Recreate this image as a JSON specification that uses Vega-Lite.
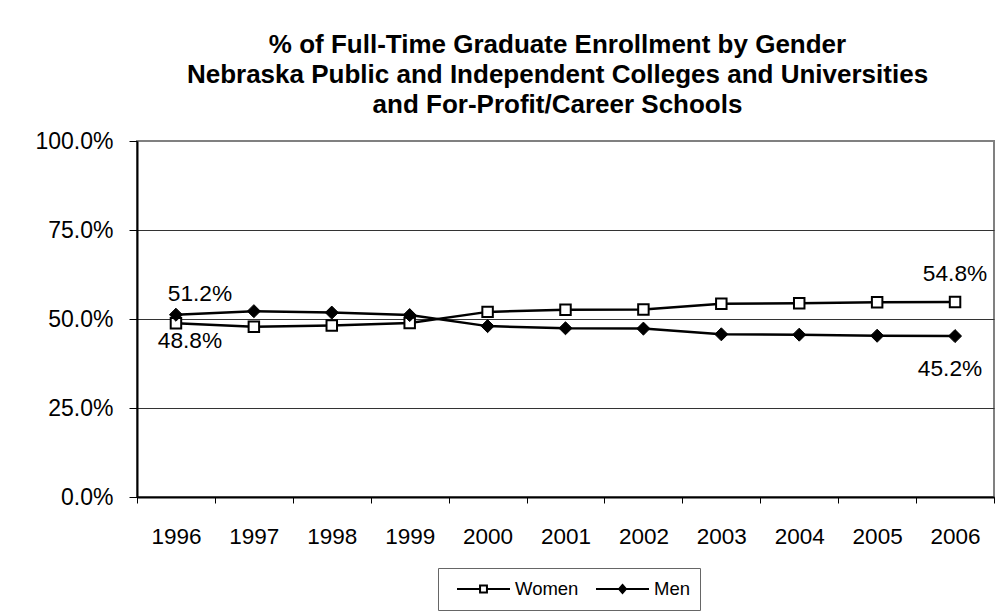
{
  "$schema": "https://vega.github.io/schema/vega-lite/v6.json",
  "width": 857,
  "height": 356,
  "autosize": {"type": "none"},
  "padding": {"left": 137, "top": 141, "right": 5, "bottom": 119},
  "background": "white",
  "config": {
    "font": "Liberation Sans",
    "view": {"stroke": "#808080", "strokeWidth": 2},
    "legend": {
      "orient": "none",
      "legendX": 301,
      "legendY": 427,
      "direction": "horizontal",
      "strokeColor": "#666666",
      "padding": 10,
      "symbolSize": 2809,
      "symbolStrokeWidth": 2,
      "symbolStrokeColor": "black",
      "clipHeight": 22,
      "symbolOffset": 8,
      "labelOffset": 4,
      "columnPadding": 8,
      "labelFontSize": 18.5,
      "labelColor": "black",
      "labelFont": "Liberation Sans"
    }
  },
  "title": {
    "text": [
      "% of Full-Time Graduate Enrollment by Gender",
      "Nebraska Public and Independent Colleges and Universities",
      "and For-Profit/Career Schools"
    ],
    "font": "Liberation Sans",
    "fontSize": 26,
    "fontWeight": "bold",
    "color": "black",
    "lineHeight": 30,
    "offset": 12,
    "dx": -8,
    "anchor": "middle"
  },
  "data": {
    "values": [
      {"year": "1996", "series": "Women", "share": 0.488},
      {"year": "1997", "series": "Women", "share": 0.478},
      {"year": "1998", "series": "Women", "share": 0.482},
      {"year": "1999", "series": "Women", "share": 0.489},
      {"year": "2000", "series": "Women", "share": 0.520},
      {"year": "2001", "series": "Women", "share": 0.526},
      {"year": "2002", "series": "Women", "share": 0.527},
      {"year": "2003", "series": "Women", "share": 0.543},
      {"year": "2004", "series": "Women", "share": 0.544},
      {"year": "2005", "series": "Women", "share": 0.547},
      {"year": "2006", "series": "Women", "share": 0.548},
      {"year": "1996", "series": "Men", "share": 0.512},
      {"year": "1997", "series": "Men", "share": 0.522},
      {"year": "1998", "series": "Men", "share": 0.518},
      {"year": "1999", "series": "Men", "share": 0.511},
      {"year": "2000", "series": "Men", "share": 0.480},
      {"year": "2001", "series": "Men", "share": 0.474},
      {"year": "2002", "series": "Men", "share": 0.473},
      {"year": "2003", "series": "Men", "share": 0.457},
      {"year": "2004", "series": "Men", "share": 0.456},
      {"year": "2005", "series": "Men", "share": 0.453},
      {"year": "2006", "series": "Men", "share": 0.452}
    ]
  },
  "encoding": {
    "x": {
      "field": "year",
      "type": "ordinal",
      "scale": {"type": "band", "paddingInner": 0, "paddingOuter": 0},
      "axis": {
        "title": null,
        "labelAngle": 0,
        "grid": false,
        "tickBand": "extent",
        "domainColor": "black",
        "domainWidth": 2,
        "tickColor": "black",
        "tickWidth": 1,
        "tickSize": 6,
        "labelFontSize": 22.5,
        "labelColor": "black",
        "labelFont": "Liberation Sans",
        "labelPadding": 22
      }
    },
    "y": {
      "field": "share",
      "type": "quantitative",
      "scale": {"domain": [0, 1], "nice": false},
      "axis": {
        "title": null,
        "values": [0, 0.25, 0.5, 0.75, 1],
        "format": ".1%",
        "grid": true,
        "gridColor": {"condition": {"test": "datum.value >= 1", "value": "#808080"}, "value": "#333333"},
        "gridWidth": 1,
        "domainColor": "black",
        "domainWidth": 2,
        "tickColor": "black",
        "tickWidth": 1,
        "tickSize": 8,
        "labelPadding": 16,
        "labelFontSize": 23,
        "labelColor": "black",
        "labelFont": "Liberation Sans"
      }
    }
  },
  "layer": [
    {
      "mark": {"type": "line", "color": "black", "strokeWidth": 2.5},
      "encoding": {"detail": {"field": "series", "type": "nominal"}}
    },
    {
      "transform": [{"filter": "datum.series == 'Women'"}],
      "mark": {"type": "point", "shape": "square", "filled": true, "fill": "white", "stroke": "black", "strokeWidth": 2, "size": 110, "opacity": 1}
    },
    {
      "transform": [{"filter": "datum.series == 'Men'"}],
      "mark": {"type": "point", "shape": "diamond", "filled": true, "fill": "black", "stroke": "black", "strokeWidth": 1, "size": 170, "opacity": 1}
    },
    {
      "transform": [{"filter": "datum.series == 'Men' && datum.year == '1996'"}],
      "mark": {"type": "text", "fontSize": 22.7, "font": "Liberation Sans", "color": "black", "align": "center", "baseline": "alphabetic", "dx": 24, "dy": -14},
      "encoding": {"text": {"field": "share", "type": "quantitative", "format": ".1%"}}
    },
    {
      "transform": [{"filter": "datum.series == 'Women' && datum.year == '1996'"}],
      "mark": {"type": "text", "fontSize": 22.7, "font": "Liberation Sans", "color": "black", "align": "center", "baseline": "alphabetic", "dx": 14, "dy": 25},
      "encoding": {"text": {"field": "share", "type": "quantitative", "format": ".1%"}}
    },
    {
      "transform": [{"filter": "datum.series == 'Women' && datum.year == '2006'"}],
      "mark": {"type": "text", "fontSize": 22.7, "font": "Liberation Sans", "color": "black", "align": "center", "baseline": "alphabetic", "dx": 0, "dy": -21},
      "encoding": {"text": {"field": "share", "type": "quantitative", "format": ".1%"}}
    },
    {
      "transform": [{"filter": "datum.series == 'Men' && datum.year == '2006'"}],
      "mark": {"type": "text", "fontSize": 22.7, "font": "Liberation Sans", "color": "black", "align": "center", "baseline": "alphabetic", "dx": -5, "dy": 40},
      "encoding": {"text": {"field": "share", "type": "quantitative", "format": ".1%"}}
    },
    {
      "transform": [{"filter": "false"}],
      "mark": {"type": "point", "filled": true, "strokeWidth": 2, "opacity": 1},
      "encoding": {
        "shape": {
          "field": "series",
          "type": "nominal",
          "scale": {
            "domain": ["Women", "Men"],
            "range": [
              "M-1,0H-0.13M0.13,0H1M-0.13,-0.13H0.13V0.13H-0.13Z",
              "M-1,0H1M0,-0.15L0.13,0L0,0.15L-0.13,0Z"
            ]
          },
          "legend": {"title": null}
        },
        "fill": {
          "field": "series",
          "type": "nominal",
          "scale": {"domain": ["Women", "Men"], "range": ["white", "black"]},
          "legend": {"title": null}
        },
        "stroke": {
          "field": "series",
          "type": "nominal",
          "scale": {"domain": ["Women", "Men"], "range": ["black", "black"]},
          "legend": {"title": null}
        }
      }
    }
  ]
}
